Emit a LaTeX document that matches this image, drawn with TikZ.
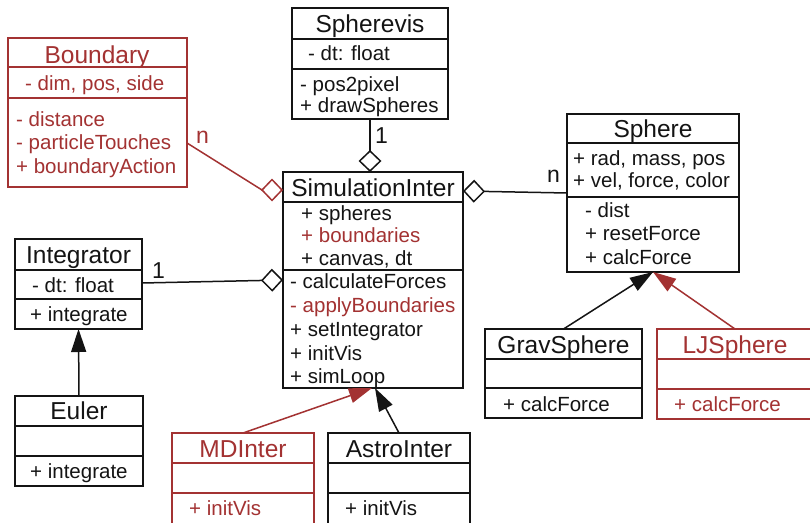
\documentclass[tikz,border=0pt]{standalone}
\usepackage{fontspec}
\setmainfont{Liberation Sans}
\usetikzlibrary{arrows.meta}
\definecolor{dred}{RGB}{163,50,50}
\definecolor{ink}{RGB}{20,20,20}
\newcommand\titlefont{\fontsize{24.5}{29}\selectfont}
\newcommand\bodyfont{\fontsize{20.5}{24}\selectfont}
\newcommand\umlbox[8]{%
  \node[draw=#8, line width=2pt, inner sep=0pt, outer sep=0pt, anchor=north west,
        minimum width={(#4-#2)*1pt}, minimum height={(#5-#3)*1pt}] (#1) at (#2,#3) {};
  \draw[#8, line width=2pt] (#2,#6) -- (#4,#6) (#2,#7) -- (#4,#7);
}
\begin{document}
\begin{tikzpicture}[x=1pt,y=-1pt,
  txt/.style={anchor=base west, inner sep=0pt, font=\bodyfont, text=ink},
  ttl/.style={anchor=base, inner sep=0pt, font=\titlefont, text=ink},
  lbl/.style={anchor=base west, inner sep=0pt, font=\fontsize{23}{27}\selectfont, text=ink},
  conn/.style={line width=1.5pt, draw=ink},
  agg/.style={conn, -{Diamond[open, length=22pt, width=23pt]}},
  inh/.style={conn, -{Triangle[length=23pt, width=15pt]}},
]
\useasboundingbox (0,0) rectangle (810,522);
\fill[white] (0,0) rectangle (810,522);

% ---- boxes ----
\umlbox{bnd}{8}{38}{187}{187}{67}{98}{dred}
\umlbox{svis}{292}{8}{448}{119}{39}{69}{ink}
\umlbox{sph}{567}{114}{739}{272}{143}{197}{ink}
\umlbox{sim}{283}{172}{463}{388}{202}{270}{ink}
\umlbox{int}{15}{239}{142}{329}{270}{299}{ink}
\umlbox{eul}{15}{396}{143}{486}{426}{456}{ink}
\umlbox{md}{172}{433}{314}{545}{463}{493}{dred}
\umlbox{astro}{328}{433}{470}{545}{463}{493}{ink}
\umlbox{grav}{485}{329}{642}{418}{359}{388}{ink}
\umlbox{lj}{657}{329}{813}{419}{359}{389}{dred}

% ---- Boundary ----
\node[ttl, text=dred] (bndT) at (97,63) {Boundary};
\node[txt, text=dred] (bndA) at (25,90) {- dim, pos, side};
\node[txt, text=dred] (bndM1) at (16,126) {- distance};
\node[txt, text=dred] (bndM2) at (16,149) {- particleTouches};
\node[txt, text=dred] (bndM3) at (16,173) {+ boundaryAction};

% ---- Spherevis ----
\node[ttl] (svisT) at (370,32) {Spherevis};
\node[txt] (svisA) at (308,60) {- dt: float};
\node[txt] (svisM1) at (300,91) {- pos2pixel};
\node[txt] (svisM2) at (300,112) {+ drawSpheres};

% ---- Sphere ----
\node[ttl] (sphT) at (653,137) {Sphere};
\node[txt] (sphA1) at (573,165) {+ rad, mass, pos};
\node[txt] (sphA2) at (573,187) {+ vel, force, color};
\node[txt] (sphM1) at (585,217) {- dist};
\node[txt] (sphM2) at (585,240) {+ resetForce};
\node[txt] (sphM3) at (585,264) {+ calcForce};

% ---- SimulationInter ----
\node[ttl] (simT) at (373,196) {SimulationInter};
\node[txt] (simA1) at (301,220) {+ spheres};
\node[txt, text=dred] (simA2) at (301,242) {+ boundaries};
\node[txt] (simA3) at (301,265) {+ canvas, dt};
\node[txt] (simM1) at (290,288) {- calculateForces};
\node[txt, text=dred] (simM2) at (290,312) {- applyBoundaries};
\node[txt] (simM3) at (290,336) {+ setIntegrator};
\node[txt] (simM4) at (290,360) {+ initVis};
\node[txt] (simM5) at (290,383) {+ simLoop};

% ---- Integrator / Euler ----
\node[ttl] (intT) at (78.5,263) {Integrator};
\node[txt] (intA) at (32,292) {- dt: float};
\node[txt] (intM) at (30,321) {+ integrate};
\node[ttl] (eulT) at (79,419) {Euler};
\node[txt] (eulM) at (30,478) {+ integrate};

% ---- MDInter / AstroInter ----
\node[ttl, text=dred] (mdT) at (243,457) {MDInter};
\node[txt, text=dred] (mdM) at (189,515) {+ initVis};
\node[ttl] (astroT) at (399,457) {AstroInter};
\node[txt] (astroM) at (345,515) {+ initVis};

% ---- GravSphere / LJSphere ----
\node[ttl] (gravT) at (563.5,353) {GravSphere};
\node[txt] (gravM) at (503,411) {+ calcForce};
\node[ttl, text=dred] (ljT) at (735,353) {LJSphere};
\node[txt, text=dred] (ljM) at (674,411) {+ calcForce};

% ---- connectors ----
\draw[agg, draw=dred] ([yshift=-105pt]bnd.north east) -- ([xshift=-21pt,yshift=-18pt]sim.north west) -- ([yshift=-18pt]sim.north west);
\node[lbl, text=dred] (nB) at (196,143) {n};
\draw[agg] (svis.south) -- (svis.south |- sim.north);
\node[lbl] (oneS) at (375,143) {1};
\draw[agg] ([yshift=-79pt]sph.north west) -- ([yshift=-19pt]sim.north east);
\node[lbl] (nS) at (547,182) {n};
\draw[agg] ([yshift=1pt]int.east) -- (sim.west);
\node[lbl] (oneI) at (152,278) {1};
\draw[inh] (eul.north) -- (int.south);
\draw[inh, draw=dred, fill=dred] (md.north) -- ([xshift=-1pt]sim.south);
\draw[inh] (astro.north) -- ([xshift=2pt]sim.south);
\draw[inh] (grav.north) -- (sph.south);
\draw[inh, draw=dred, fill=dred] (lj.north) -- (sph.south);
\end{tikzpicture}
\end{document}
